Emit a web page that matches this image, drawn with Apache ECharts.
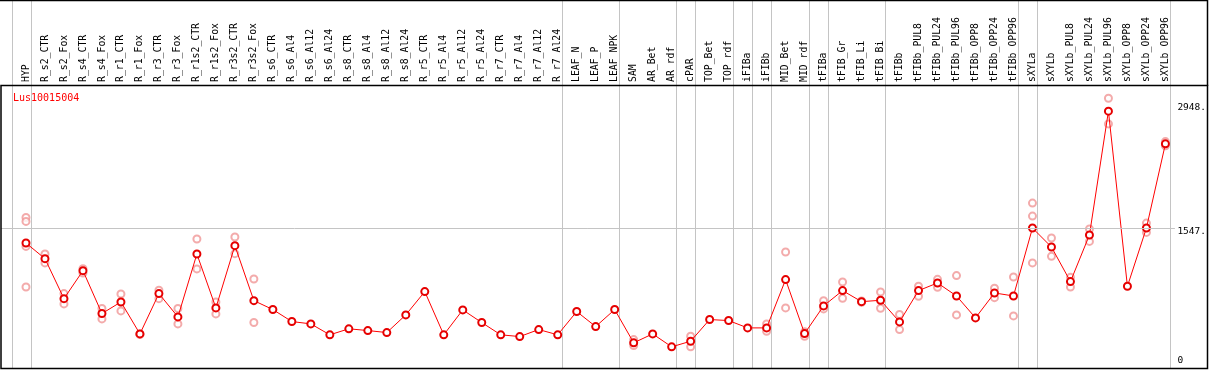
<!DOCTYPE html>
<html>
<head>
<meta charset="utf-8">
<script src="https://cdn.jsdelivr.net/npm/echarts@6/dist/echarts.min.js"></script>
<style>
  html, body { margin: 0; padding: 0; background: #fff; }
  #chart { width: 1209px; height: 370px; }
</style>
</head>
<body>
<div id="chart"></div>
<script>
// 样本名称
const categories = [
  "HYP", "R_s2_CTR", "R_s2_Fox", "R_s4_CTR", "R_s4_Fox", "R_r1_CTR", "R_r1_Fox",
  "R_r3_CTR", "R_r3_Fox", "R_r1s2_CTR", "R_r1s2_Fox", "R_r3s2_CTR", "R_r3s2_Fox",
  "R_s6_CTR", "R_s6_Al4", "R_s6_Al12", "R_s6_Al24", "R_s8_CTR", "R_s8_Al4", "R_s8_Al12",
  "R_s8_Al24", "R_r5_CTR", "R_r5_Al4", "R_r5_Al12", "R_r5_Al24", "R_r7_CTR", "R_r7_Al4",
  "R_r7_Al12", "R_r7_Al24", "LEAF_N", "LEAF_P", "LEAF_NPK", "SAM", "AR_Bet", "AR_rdf",
  "cPAR", "TOP_Bet", "TOP_rdf", "iFIBa", "iFIBb", "MID_Bet", "MID_rdf", "tFIBa",
  "tFIB_Gr", "tFIB_Li", "tFIB_Bi", "tFIBb", "tFIBb_PUL8", "tFIBb_PUL24", "tFIBb_PUL96",
  "tFIBb_OPP8", "tFIBb_OPP24", "tFIBb_OPP96", "sXYLa", "sXYLb", "sXYLb_PUL8",
  "sXYLb_PUL24", "sXYLb_PUL96", "sXYLb_OPP8", "sXYLb_OPP24", "sXYLb_OPP96"
];

// 平均表达量
const means = [
  1367, 1179, 700, 1035, 521, 660, 277, 760, 481, 1235, 589, 1335, 676,
  569, 425, 397, 266, 338, 317, 293, 505, 784, 266, 565, 413, 266, 245, 329, 266,
  545, 365, 569, 170, 277, 122, 189, 449, 437, 349, 349, 928, 281, 613,
  796, 664, 680, 421, 796, 888, 732, 469, 768, 732,
  1547, 1319, 904, 1463, 2948, 848, 1547, 2556
];

// 各重复的表达量
const replicates = [
  [1673, 1626, 1326, 840], [1235, 1128], [760, 637], [1059, 1008], [581, 457],
  [756, 553], [277, 270], [800, 700], [581, 397], [1415, 1056], [660, 517],
  [1439, 1239], [936, 413],
  [], [], [], [], [], [], [], [], [], [], [], [], [], [], [], [],
  [], [], [],
  [209, 138], [], [], [249, 122], [], [], [], [397, 309], [1259, 589], [302, 249],
  [676, 577], [900, 704], [672, 656], [780, 584], [509, 329],
  [848, 728], [931, 836], [976, 505], [], [824, 712], [960, 493],
  [1846, 1690, 1128], [1427, 1207], [955, 840], [1535, 1386], [3103, 2795], [],
  [1606, 1494], [2583, 2532]
];

// 分组分隔线（位于该索引样本之后）
const separators = [-1, 0, 28, 31, 34, 35, 37, 38, 39, 41, 42, 45, 52, 53, 60];

// 右侧刻度
const yTicks = [0, 1547, 2948];

const yMin = -138, yMax = 3262;
const mono = "DejaVu Sans Mono";

let chart = echarts.init(document.getElementById("chart"));

let meanData = means.map((v, i) => [i, v]);
let repData = [];
replicates.forEach((reps, i) => reps.forEach(v => repData.push([i, v])));

let option = {
  animation: false,
  title: {
    text: "Lus10015004",
    left: 8, top: 88,
    textStyle: { color: "#ff0000", fontSize: 10, fontWeight: "normal", fontFamily: mono }
  },
  grid: { left: 1, right: 33.5, top: 85, bottom: 1.5 },
  xAxis: {
    type: "value",
    position: "top",
    min: -25 / 19,
    max: 60.5,
    axisLine: { show: false },
    axisTick: { show: false },
    splitLine: { show: false },
    axisLabel: {
      customValues: categories.map((c, i) => i),
      formatter: v => categories[Math.round(v)],
      rotate: 90,
      margin: 3,
      color: "#000",
      fontSize: 9.8,
      fontFamily: mono
    }
  },
  yAxis: {
    type: "value",
    position: "right",
    min: yMin, max: yMax,
    axisLine: { show: false },
    axisTick: { show: false },
    splitLine: { show: false },
    axisLabel: {
      customValues: yTicks,
      margin: 2.5,
      color: "#000",
      fontSize: 9.5,
      fontFamily: mono,
      formatter: v => v === 0 ? "{lo|0}" : (v === 2948 ? "{hi|" + v + ".}" : "{lo|" + v + ".}"),
      rich: {
        lo: { padding: [8, 0, 0, 0], fontSize: 9.5, fontFamily: mono, color: "#000" },
        hi: { padding: [0, 0, 8, 0], fontSize: 9.5, fontFamily: mono, color: "#000" }
      }
    }
  },
  graphic: [
    { type: "rect", shape: { x: 1, y: 85.5, width: 1206.5, height: 283 },
      style: { fill: null, stroke: "#000", lineWidth: 1.5 }, z: 100 },
    { type: "line", shape: { x1: 0, y1: 0.5, x2: 1208, y2: 0.5 },
      style: { stroke: "#000", lineWidth: 1.5 }, z: 100 },
    { type: "line", shape: { x1: 1207.5, y1: 0, x2: 1207.5, y2: 86 },
      style: { stroke: "#000", lineWidth: 1.5 }, z: 100 }
  ],
  series: [
    {
      // 分隔线，贯穿标签区域
      type: "custom",
      clip: false,
      silent: true,
      z: 1,
      data: separators.map(i => [i + 0.24, 0]),
      renderItem: function (params, api) {
        let x = Math.round(api.coord([api.value(0), 0])[0]) + 0.5;
        let yb = api.coord([0, yMin])[1];
        return {
          type: "line",
          shape: { x1: x, y1: 0, x2: x, y2: yb },
          style: { stroke: "#c4c4c4", lineWidth: 1 }
        };
      }
    },
    {
      type: "scatter",
      symbol: "emptyCircle",
      symbolSize: 7,
      z: 2,
      silent: true,
      itemStyle: { color: "#f09696", borderColor: "#f09696", borderWidth: 1.2 },
      data: repData
    },
    {
      type: "line",
      symbol: "emptyCircle",
      symbolSize: 7,
      z: 3,
      silent: true,
      lineStyle: { color: "#ff0000", width: 1 },
      itemStyle: { color: "#e60000", borderColor: "#e60000", borderWidth: 1.4 },
      data: meanData,
      markLine: {
        silent: true,
        symbol: "none",
        label: { show: false },
        lineStyle: { color: "#c4c4c4", type: "solid", width: 1 },
        data: [{ yAxis: 1547 }]
      }
    }
  ]
};

chart.setOption(option);
</script>
</body>
</html>
